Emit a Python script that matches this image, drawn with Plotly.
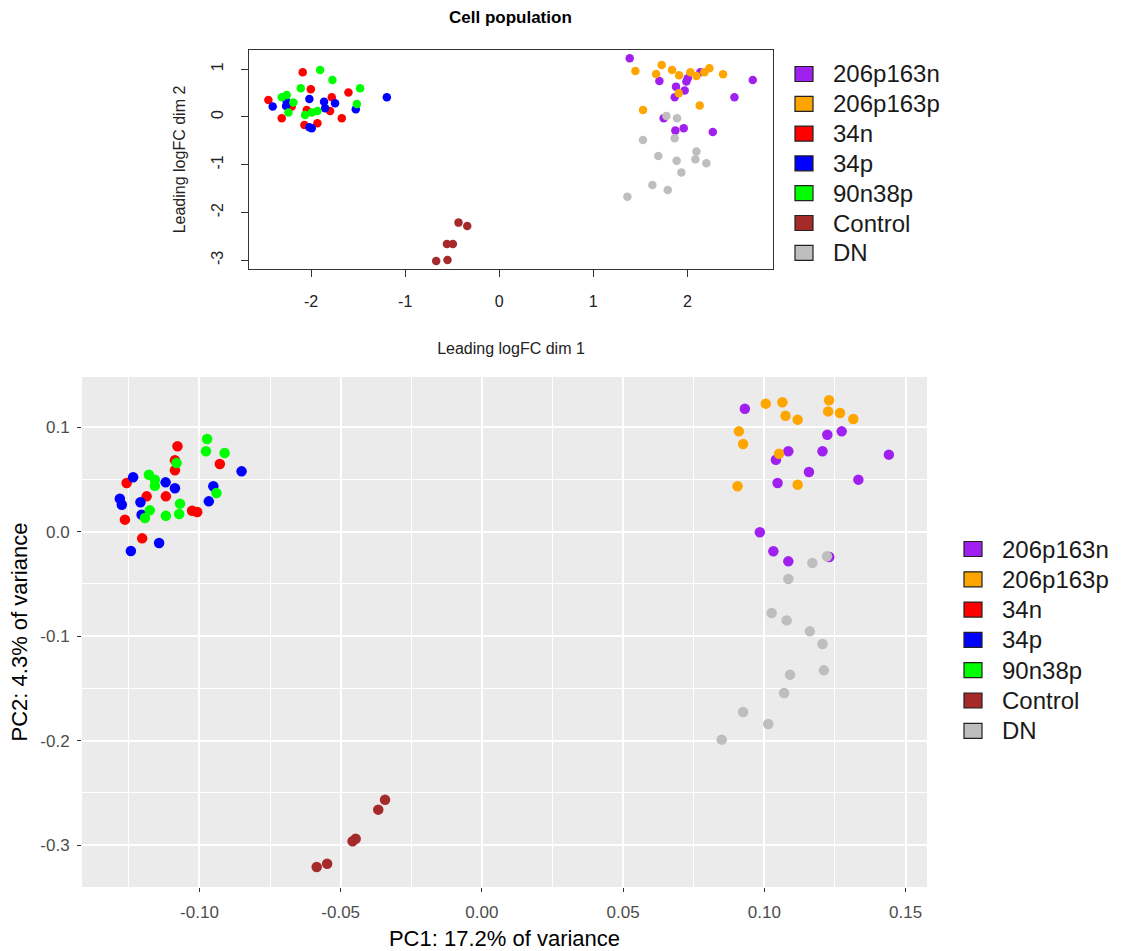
import plotly.graph_objects as go

# ---- groups and colours (shared by both panels) ----
groups = ["206p163n", "206p163p", "34n", "34p", "90n38p", "Control", "DN"]
colors = ["#A020F0", "#FFA500", "#FF0000", "#0000FF", "#00FF00", "#A52A2A", "#BEBEBE"]

# ---- MDS plot (Leading logFC dims) ----
mds_x = {
    "206p163n": [1.387, 1.702, 1.879, 2.004, 1.989, 2.138, 1.971, 1.865, 2.695, 2.500, 1.748, 1.872, 1.961, 2.270],
    "206p163p": [1.447, 1.727, 1.667, 1.837, 1.912, 2.032, 2.096, 2.181, 2.234, 2.379, 1.908, 1.528, 2.131],
    "34n": [-2.454, -2.089, -2.003, -2.312, -2.206, -2.046, -2.071, -1.933, -1.780, -1.798, -1.674, -1.603],
    "34p": [-2.408, -2.259, -2.266, -2.018, -1.993, -1.862, -1.851, -1.745, -1.525, -1.195, -2.018],
    "90n38p": [-2.312, -2.259, -2.188, -2.241, -2.110, -1.904, -1.773, -1.479, -1.514, -2.064, -1.993, -1.933],
    "Control": [-0.433, -0.340, -0.556, -0.493, -0.670, -0.550],
    "DN": [1.777, 1.890, 1.528, 1.865, 1.691, 1.886, 2.096, 2.085, 2.202, 1.936, 1.628, 1.791, 1.362],
}
mds_y = {
    "206p163n": [1.227, 0.753, 0.634, 0.809, 0.739, 0.935, 0.551, 0.411, 0.774, 0.411, -0.028, -0.286, -0.237, -0.314],
    "206p163p": [0.962, 1.088, 0.900, 0.983, 0.872, 0.935, 0.858, 0.935, 1.018, 0.893, 0.495, 0.146, 0.237],
    "34n": [0.356, 0.935, 0.579, -0.028, 0.216, 0.146, -0.167, -0.132, 0.411, 0.126, -0.028, 0.509],
    "34p": [0.216, 0.320, 0.230, 0.377, -0.237, 0.320, 0.181, 0.286, 0.160, 0.411, -0.216],
    "90n38p": [0.411, 0.460, 0.300, 0.091, 0.600, 0.983, 0.774, 0.600, 0.272, 0.042, 0.091, 0.126],
    "Control": [-2.210, -2.280, -2.657, -2.657, -3.013, -2.992],
    "DN": [0.021, -0.028, -0.481, -0.446, -0.816, -0.914, -0.725, -0.886, -0.969, -1.164, -1.423, -1.527, -1.667],
}
mds_ticks_x = [-2, -1, 0, 1, 2]
mds_ticks_y = [-3, -2, -1, 0, 1]

# ---- PCA plot ----
pc1 = {
    "206p163n": [0.0931, 0.1223, 0.1274, 0.1085, 0.1041, 0.1206, 0.1441, 0.1158, 0.1047, 0.1333, 0.0984, 0.1032, 0.1085, 0.1230],
    "206p163p": [0.1005, 0.1064, 0.1229, 0.1226, 0.1268, 0.1075, 0.1118, 0.1315, 0.0910, 0.0925, 0.1052, 0.0905, 0.1118],
    "34n": [-0.1078, -0.1087, -0.1087, -0.0928, -0.1258, -0.1187, -0.1119, -0.1026, -0.1008, -0.1264, -0.1203],
    "34p": [-0.0851, -0.1235, -0.1120, -0.1087, -0.0951, -0.1282, -0.1275, -0.1209, -0.0967, -0.1205, -0.1143, -0.1243],
    "90n38p": [-0.0973, -0.0977, -0.0911, -0.1179, -0.1158, -0.1158, -0.1081, -0.1069, -0.1176, -0.1119, -0.1072, -0.1193, -0.0940],
    "Control": [-0.0343, -0.0367, -0.0447, -0.0458, -0.0548, -0.0585],
    "DN": [0.1170, 0.1222, 0.1085, 0.1026, 0.1079, 0.1161, 0.1206, 0.1211, 0.1091, 0.1070, 0.0925, 0.1014, 0.0849],
}
pc2 = {
    "206p163n": [0.1177, 0.0928, 0.0960, 0.0769, 0.0689, 0.0769, 0.0737, 0.0571, 0.0466, 0.0498, -0.0006, -0.0188, -0.0284, -0.0242],
    "206p163p": [0.1225, 0.1238, 0.1257, 0.1151, 0.1136, 0.1110, 0.1072, 0.1078, 0.0960, 0.0839, 0.0746, 0.0434, 0.0450],
    "34n": [0.0817, 0.0683, 0.0587, 0.0648, 0.0466, 0.0338, 0.0338, 0.0201, 0.0188, 0.0115, -0.0064],
    "34p": [0.0577, 0.0520, 0.0472, 0.0415, 0.0434, 0.0316, 0.0258, 0.0281, 0.0290, 0.0163, -0.0108, -0.0185],
    "90n38p": [0.0887, 0.0769, 0.0753, 0.0545, 0.0498, 0.0440, 0.0657, 0.0268, 0.0204, 0.0153, 0.0169, 0.0131, 0.0370],
    "Control": [-0.2565, -0.2660, -0.2938, -0.2963, -0.3177, -0.3209],
    "DN": [-0.0300, -0.0236, -0.0453, -0.0778, -0.0849, -0.0954, -0.1075, -0.1327, -0.1368, -0.1544, -0.1725, -0.1840, -0.1990],
}
pca_ticks_x = [-0.10, -0.05, 0.00, 0.05, 0.10, 0.15]
pca_ticktext_x = ["-0.10", "-0.05", "0.00", "0.05", "0.10", "0.15"]
pca_ticks_y = [-0.3, -0.2, -0.1, 0.0, 0.1]
pca_ticktext_y = ["-0.3", "-0.2", "-0.1", "0.0", "0.1"]

FONT = "Liberation Sans, Arial, sans-serif"
W, H = 1123, 951

fig = go.Figure()

# MDS points (top panel)
for g, c in zip(groups, colors):
    fig.add_trace(go.Scatter(
        x=mds_x[g], y=mds_y[g], mode="markers", name=g, showlegend=False,
        marker=dict(color=c, size=8.5, line=dict(width=0)),
        xaxis="x", yaxis="y",
    ))

# PCA points (bottom panel)
for g, c in zip(groups, colors):
    fig.add_trace(go.Scatter(
        x=pc1[g], y=pc2[g], mode="markers", name=g, showlegend=False,
        marker=dict(color=c, size=10.5, line=dict(width=0)),
        xaxis="x2", yaxis="y2",
    ))

# panel geometry in pixels
top_box = dict(left=249, right=773, top=50, bottom=269)
bot_box = dict(left=82, right=927, top=377, bottom=887)

def px_x(v):
    return v / W

def px_y(v):
    return 1 - v / H

axis_font = dict(family=FONT, size=16, color="#222222")

fig.update_layout(
    width=W, height=H,
    margin=dict(l=0, r=0, t=0, b=0),
    paper_bgcolor="white", plot_bgcolor="white",
    showlegend=False,
    font=dict(family=FONT),
    xaxis=dict(
        domain=[px_x(top_box["left"]), px_x(top_box["right"])],
        anchor="y", range=[-2.66, 2.91],
        tickmode="array", tickvals=mds_ticks_x, ticktext=[str(v) for v in mds_ticks_x],
        ticks="outside", ticklen=7, tickcolor="#333333", tickwidth=1,
        showline=True, mirror=True, linecolor="#333333", linewidth=1,
        showgrid=False, zeroline=False, tickfont=axis_font,
        ticklabelstandoff=11,
        title=dict(text="Leading logFC dim 1", font=axis_font, standoff=33),
    ),
    yaxis=dict(
        domain=[px_y(top_box["bottom"]), px_y(top_box["top"])],
        anchor="x", range=[-3.18, 1.40],
        tickmode="array", tickvals=mds_ticks_y, ticktext=[str(v) for v in mds_ticks_y],
        tickangle=-90,
        ticks="outside", ticklen=7, tickcolor="#333333", tickwidth=1,
        showline=True, mirror=True, linecolor="#333333", linewidth=1,
        showgrid=False, zeroline=False, tickfont=axis_font,
        ticklabelstandoff=12,
        title=dict(text="Leading logFC dim 2", font=axis_font, standoff=18),
    ),
    xaxis2=dict(
        domain=[px_x(bot_box["left"]), px_x(bot_box["right"])],
        anchor="y2", range=[-0.1416, 0.1576],
        tickmode="array", tickvals=pca_ticks_x, ticktext=pca_ticktext_x,
        ticks="outside", ticklen=4, tickcolor="#333333", tickwidth=1.2,
        showline=False, zeroline=False,
        showgrid=True, gridcolor="white", gridwidth=2,
        minor=dict(tickmode="linear", tick0=0.025, dtick=0.05, showgrid=True,
                   gridcolor="white", gridwidth=1, ticks=""),
        tickfont=dict(family=FONT, size=17, color="#4D4D4D"),
        ticklabelstandoff=6,
        title=dict(text="PC1: 17.2% of variance",
                   font=dict(family=FONT, size=22, color="black"), standoff=12),
    ),
    yaxis2=dict(
        domain=[px_y(bot_box["bottom"]), px_y(bot_box["top"])],
        anchor="x2", range=[-0.340, 0.148],
        tickmode="array", tickvals=pca_ticks_y, ticktext=pca_ticktext_y,
        ticks="outside", ticklen=4, tickcolor="#333333", tickwidth=1.2,
        showline=False, zeroline=False,
        showgrid=True, gridcolor="white", gridwidth=2,
        minor=dict(tickmode="linear", tick0=0.05, dtick=0.1, showgrid=True,
                   gridcolor="white", gridwidth=1, ticks=""),
        tickfont=dict(family=FONT, size=17, color="#4D4D4D"),
        ticklabelstandoff=4,
        title=dict(text="PC2: 4.3% of variance",
                   font=dict(family=FONT, size=22, color="black"), standoff=6),
    ),
)

# grey ggplot-style panel behind the PCA grid
fig.add_shape(type="rect", xref="x2 domain", yref="y2 domain", x0=0, x1=1, y0=0, y1=1,
              fillcolor="#EBEBEB", line=dict(width=0), layer="below")

# title of the MDS panel
fig.add_annotation(text="<b>Cell population</b>", xref="paper", yref="paper",
                   x=px_x((top_box["left"] + top_box["right"]) / 2), y=px_y(18),
                   xanchor="center", yanchor="middle", showarrow=False,
                   font=dict(family=FONT, size=17, color="black"))

# legend keys: filled squares with dark outline, one row per group
def draw_key(sq_left, text_left, first_row, step):
    for i, (g, c) in enumerate(zip(groups, colors)):
        cy = first_row + i * step
        fig.add_shape(type="rect", xref="paper", yref="paper",
                      x0=px_x(sq_left), x1=px_x(sq_left + 18),
                      y0=px_y(cy + 7.5), y1=px_y(cy - 7.5),
                      fillcolor=c, line=dict(color="#222222", width=1.2))
        fig.add_annotation(text=g, xref="paper", yref="paper",
                           x=px_x(text_left), y=px_y(cy),
                           xanchor="left", yanchor="middle", showarrow=False,
                           font=dict(family=FONT, size=24, color="#1a1a1a"))

draw_key(795, 831, 74, 29.8)
draw_key(964, 1000, 549, 30.3)

fig.write_html("out.html")
